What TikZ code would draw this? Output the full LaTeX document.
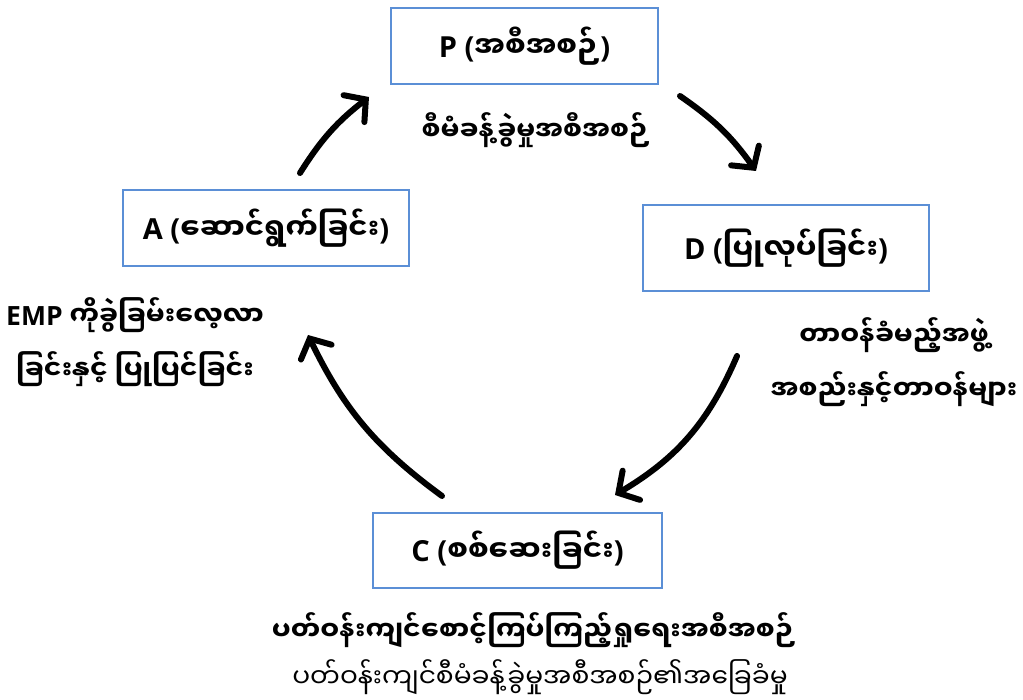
\documentclass[tikz,border=0pt]{standalone}
\usepackage{fontspec}
\setmainfont{Open Sans}
\newfontfamily\mmfont[Script=Myanmar]{Noto Sans Myanmar UI}
\usetikzlibrary{arrows.meta}
\definecolor{boxblue}{RGB}{91,143,214}
\newcommand{\mm}[1]{{\mmfont #1}}

\begin{document}
\begin{tikzpicture}[x=1pt,y=-1pt,
  stage/.style={draw=boxblue, line width=2pt, inner sep=0pt,
    font=\bfseries\fontsize{29}{34}\selectfont},
  note/.style={align=center, font=\bfseries\fontsize{26.5}{54}\selectfont},
  plain/.style={align=center, font=\fontsize{26.5}{30}\selectfont},
  cyc/.style={line width=6pt, line cap=round,
    -{Straight Barb[length=15pt,width=34pt,line cap=round]}}]
\useasboundingbox (0,0) rectangle (1023,700);

% the four PDCA stages
\node[stage, minimum width=267pt, minimum height=76pt] (P) at (524.5,46) {P (\mm{အစီအစဉ်})};
\node[stage, minimum width=286pt, minimum height=76pt] (A) at (266,228) {A (\mm{ဆောင်ရွက်ခြင်း})};
\node[stage, minimum width=286pt, minimum height=86pt] (D) at (786,248) {D (\mm{ပြုလုပ်ခြင်း})};
\node[stage, minimum width=289pt, minimum height=75pt] (C) at (517.5,550.5) {C (\mm{စစ်ဆေးခြင်း})};

% explanations beside each stage
\node[note] (Pn) at (536,130) {\mm{စီမံခန့်ခွဲမှုအစီအစဉ်}};
\node[note] (An) at (135,342) {EMP \mm{ကိုခွဲခြမ်းလေ့လာ}\\\mm{ခြင်းနှင့် ပြုပြင်ခြင်း}};
\node[note] (Dn) at (894,362) {\mm{တာဝန်ခံမည့်အဖွဲ့}\\\mm{အစည်းနှင့်တာဝန်များ}};
\node[note] (Cn) at (534,630) {\mm{ပတ်ဝန်းကျင်စောင့်ကြပ်ကြည့်ရှုရေးအစီအစဉ်}};
\node[plain] (Cm) at (540,677) {\mm{ပတ်ဝန်းကျင်စီမံခန့်ခွဲမှုအစီအစဉ်၏အခြေခံမှု}};

% cycle arrows
\coordinate (a1) at (300,173);
\coordinate (p1) at (369,97);
\coordinate (p2) at (680,96);
\coordinate (d1) at (756,171);
\coordinate (d2) at (737,356);
\coordinate (c1) at (615,495);
\coordinate (c2) at (442,496);
\coordinate (a2) at (308,335);
\draw[cyc] (a1) to[bend left=10] (p1);
\draw[cyc] (p2) to[bend left=10] (d1);
\draw[cyc] (d2) to[bend left=18] (c1);
\draw[cyc] (c2) to[bend left=14] (a2);
\end{tikzpicture}
\end{document}
